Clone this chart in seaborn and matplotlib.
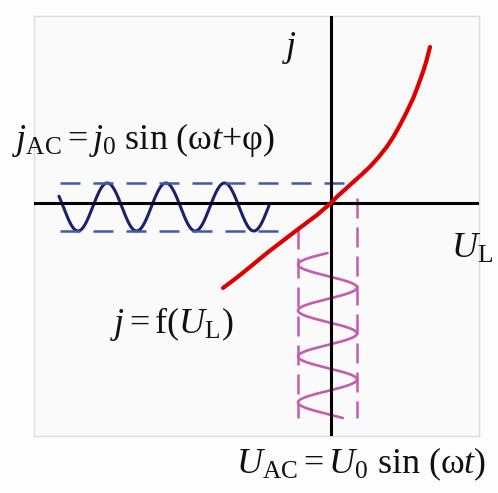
import numpy as np
import pandas as pd
import matplotlib
matplotlib.use("Agg")
import matplotlib.pyplot as plt
import seaborn as sns

sns.set_style("white")
plt.rcParams["font.family"] = ["Liberation Serif", "DejaVu Serif"]
plt.rcParams["mathtext.fontset"] = "custom"
plt.rcParams["mathtext.rm"] = "Liberation Serif"
plt.rcParams["mathtext.it"] = "Liberation Serif:italic"
plt.rcParams["mathtext.bf"] = "Liberation Serif:bold"

# Characteristic j = f(U_L)
curve_U = [-10.8, -9.4, -8.1, -6.4, -4.9, -3.4, -1.4, 0.0, 0.57, 1.4, 2.23, 3.07,
           3.9, 4.73, 5.57, 6.23, 6.9, 7.57, 8.23, 8.73, 9.23, 9.57, 9.9]
curve_j = [-8.5, -7.45, -6.4, -5.0, -3.85, -2.7, -1.2, 0.0, 0.6, 1.35, 2.1, 2.85,
           3.63, 4.55, 5.6, 6.6, 7.8, 9.1, 10.5, 11.8, 13.2, 14.3, 15.6]

# Current response j_AC = j0 sin(wt + phi), drawn along the U axis
j_center, j0 = -0.4, 2.4
j_period, j_phi = 5.86, 2.675
j_t_start, j_t_end = -27.2, -6.2

# Voltage excitation U_AC = U0 sin(wt), drawn downward along the j axis
U_center, U0 = -0.35, 2.95
U_period, U_phi = 4.6, -np.pi
U_t_start, U_t_end = -5.0, -21.5

# Amplitude guide lines
j_upper_span = (-27.1, 2.4)
j_lower_span = (-27.1, -4.9)
U_left_span = (-2.6, -21.5)
U_right_span = (0.5, -21.5)

labels = {
    "j_axis": r"$j$",
    "U_axis": r"$U_{\mathrm{L}}$",
    "j_ac": r"$j_{\mathrm{AC}} = j_0\ \mathrm{sin}\ (\mathrm{ω}t{+}\mathrm{φ})$",
    "curve": r"$j = \mathrm{f}(U_{\mathrm{L}})$",
    "U_ac": r"$U_{\mathrm{AC}} = U_0\ \mathrm{sin}\ (\mathrm{ω}t)$",
}

W, H = 498, 493
fig = plt.figure(figsize=(W / 100, H / 100), dpi=100, facecolor="#fdfdfd")
ax = fig.add_axes([34 / W, 1 - 436 / H, 445 / W, 420 / H])
ax.set_facecolor("#fafafa")
ax.set_xlim(-29.7, 14.8)
ax.set_ylim(-23.3, 18.7)
ax.set_xticks([])
ax.set_yticks([])
for s in ax.spines.values():
    s.set_color("#dcdcdc")
    s.set_linewidth(1.0)

# sine traces
tj = np.linspace(0, j_t_end - j_t_start, 400)
blue = pd.DataFrame({
    "U": j_t_start + tj,
    "j": j_center + j0 * np.sin(2 * np.pi / j_period * tj + j_phi),
})
tu = np.linspace(0, U_t_start - U_t_end, 400)
pink = pd.DataFrame({
    "U": U_center + U0 * np.sin(2 * np.pi / U_period * tu + U_phi),
    "j": U_t_start - tu,
})

blue_dash = "#4358a8"
pink_col = "#c45cb2"

sns.lineplot(data=pink, x="U", y="j", sort=False, estimator=None,
             color=pink_col, lw=1.9, ax=ax, zorder=2)
sns.lineplot(data=blue, x="U", y="j", sort=False, estimator=None,
             color="#1c206c", lw=2.2, ax=ax, zorder=2)

dash_b = (0, (20 * 0.72 / 1.8, 13 * 0.72 / 1.8))
dash_p = (0, (20 * 0.72 / 1.8, 9 * 0.72 / 1.8))
ax.plot(j_upper_span, [j_center + j0] * 2, color=blue_dash, lw=1.8, ls=dash_b, zorder=3)
ax.plot(j_lower_span, [j_center - j0] * 2, color=blue_dash, lw=1.8, ls=dash_b, zorder=3)
ax.plot([U_center - U0] * 2, U_left_span, color=pink_col, lw=1.8, ls=dash_p, zorder=3)
ax.plot([U_center + U0] * 2, U_right_span, color=pink_col, lw=1.8, ls=dash_p, zorder=3)

ax.axhline(0, color="black", lw=2.2, zorder=4)
ax.axvline(0, color="black", lw=2.2, zorder=4)

sns.lineplot(x=curve_U, y=curve_j, sort=False, estimator=None,
             color="#dd0000", lw=3.0, ax=ax, zorder=5,
             solid_joinstyle="round", solid_capstyle="round")

fs = 26
def put(px, py, s, ha="left"):
    fig.text(px / W, 1 - py / H, s, ha=ha, va="baseline", fontsize=fs, color="#111111")

put(282, 56, labels["j_axis"])
put(493, 258, labels["U_axis"], ha="right")
put(12, 149, labels["j_ac"])
put(110, 333, labels["curve"])
put(486, 473, labels["U_ac"], ha="right")

fig.savefig("out.png", dpi=100, facecolor=fig.get_facecolor())
